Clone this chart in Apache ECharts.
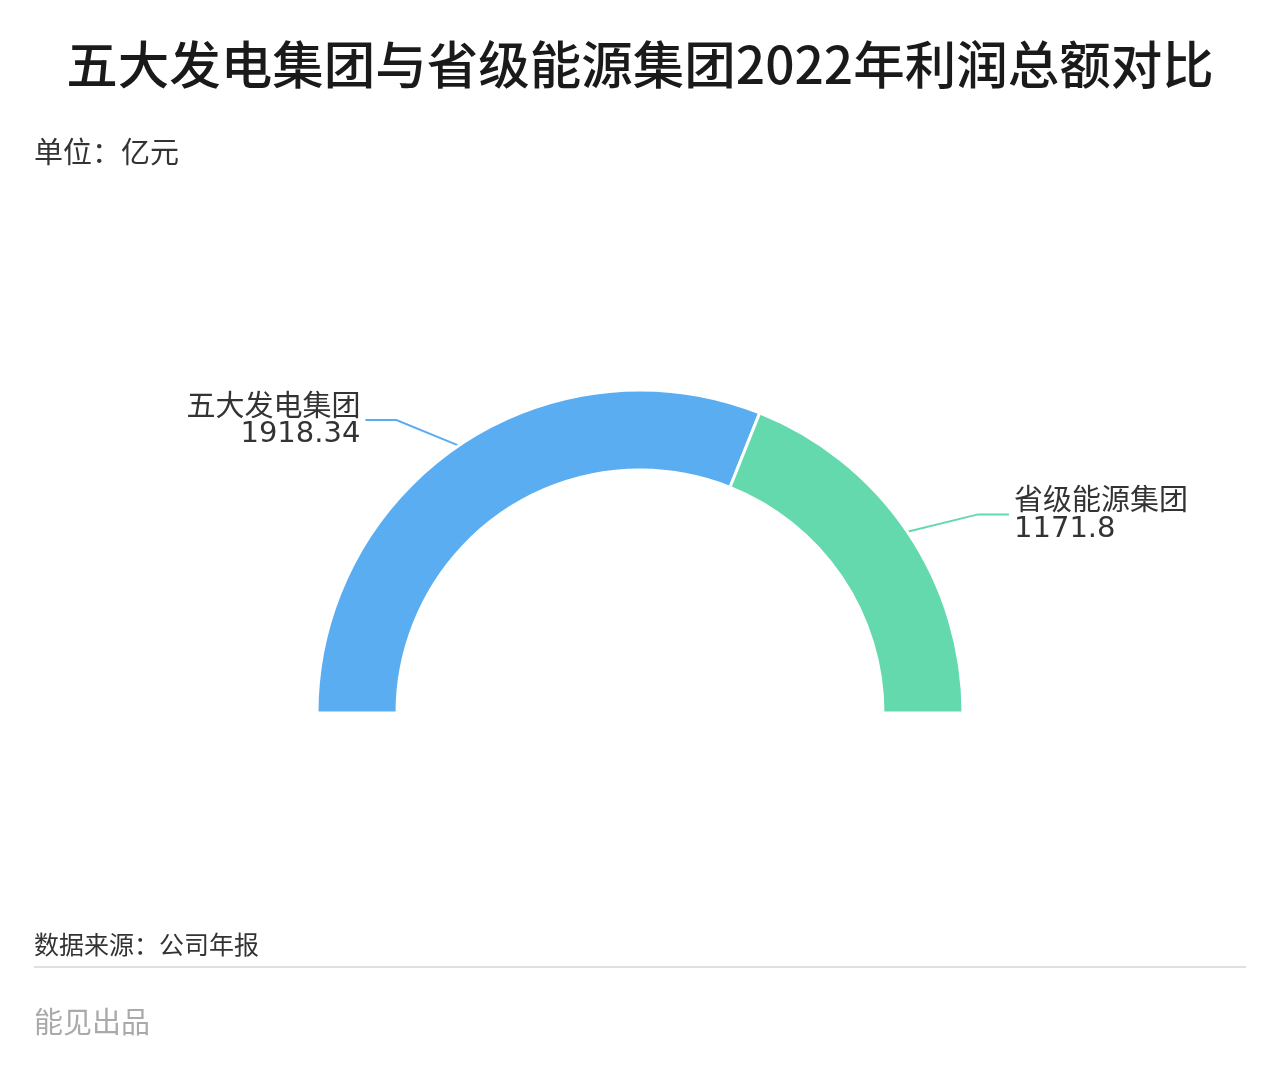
<!DOCTYPE html>
<html>
<head>
<meta charset="utf-8">
<script src="https://cdn.jsdelivr.net/npm/echarts@6/dist/echarts.min.js"></script>
<style>
html,body{margin:0;padding:0;background:#fff;}
#c{width:1280px;height:1088px;}
</style>
</head>
<body>
<div id="c"></div>
<script>
var categories = ['五大发电集团', '省级能源集团'];
var values = [1918.34, 1171.8];
var colors = ['#5badf2', '#63d9ad'];

var FONT = '"Noto Sans CJK SC", "Noto Sans", sans-serif';
var NUMFONT = '"DejaVu Sans", "Noto Sans", sans-serif';
var chart = echarts.init(document.getElementById('c'), null, {renderer: 'canvas'});

var data = categories.map(function (n, i) {
  return {name: n, value: values[i], itemStyle: {color: colors[i]}};
});

chart.setOption({
  backgroundColor: '#fff',
  animation: false,
  title: [
    {text: '五大发电集团与省级能源集团2022年利润总额对比', left: 'center', top: 39, padding: 0,
      textStyle: {fontSize: 51.5, fontWeight: 500, color: '#1a1a1a', fontFamily: FONT}},
    {text: '单位：亿元', left: 34, top: 137, padding: 0,
      textStyle: {fontSize: 29, fontWeight: 'normal', color: '#333', fontFamily: FONT}},
    {text: '数据来源：公司年报', left: 34, top: 932, padding: 0,
      textStyle: {fontSize: 25, fontWeight: 'normal', color: '#333', fontFamily: FONT}},
    {text: '能见出品', left: 34, top: 1007, padding: 0,
      textStyle: {fontSize: 29, fontWeight: 'normal', color: '#aaa', fontFamily: FONT}}
  ],
  graphic: [{
    type: 'rect', left: 34, top: 966,
    shape: {width: 1212, height: 2},
    style: {fill: '#e0e0e0'}
  }],
  series: [{
    type: 'pie',
    center: [640, 713],
    radius: [243, 323],
    startAngle: 180,
    endAngle: 0,
    clockwise: true,
    itemStyle: {borderColor: '#fff', borderWidth: 3},
    label: {
      formatter: '{n|{b}}\n{v|{c}}',
      color: '#333',
      rich: {
        n: {fontSize: 29, lineHeight: 30, color: '#333', fontFamily: FONT},
        v: {fontSize: 29, lineHeight: 30, color: '#333', fontFamily: NUMFONT}
      }
    },
    labelLine: {length: 31, length2: 76, lineStyle: {width: 2}},
    labelLayout: function (p) {
      var pts = p.labelLinePoints;
      if (!pts || pts.length < 3) return {};
      var end = pts[2];
      var dir = end[0] < pts[0][0] ? 1 : -1;
      return {labelLinePoints: [pts[0], [end[0] + dir * 31, end[1]], end]};
    },
    data: data
  }]
});
</script>
</body>
</html>
